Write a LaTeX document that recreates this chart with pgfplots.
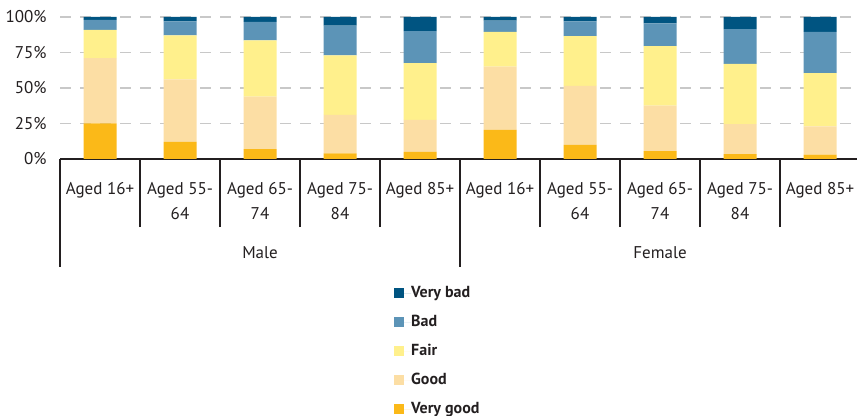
\documentclass[border=0pt]{standalone}
\usepackage{fontspec}
\setmainfont{PT Sans}
\usepackage{pgfplots}
\pgfplotsset{compat=1.18}
\definecolor{verybad}{RGB}{0,84,129}
\definecolor{bad}{RGB}{92,148,183}
\definecolor{fair}{RGB}{255,240,140}
\definecolor{good}{RGB}{252,222,164}
\definecolor{verygood}{RGB}{251,185,24}
\definecolor{axisdark}{RGB}{35,31,32}
\definecolor{gridgray}{RGB}{200,200,200}
\begin{document}
\begin{tikzpicture}
\path[use as bounding box] (0,0) rectangle (642.75pt,312pt);
\begin{axis}[
  at={(45pt,192.75pt)}, anchor=south west,
  scale only axis, width=597.75pt, height=106.5pt,
  ybar stacked, bar width=24.75pt,
  xmin=-0.5, xmax=9.4625, ymin=0, ymax=100,
  clip=false,
  axis lines*=left,
  y axis line style={draw=none},
  x axis line style={line width=1.5pt, color=axisdark},
  ytick={0,25,50,75,100},
  yticklabels={0\%,25\%,50\%,75\%,100\%},
  ytick style={draw=none},
  ymajorgrids,
  major grid style={gridgray, line width=1pt, dash pattern=on 8.25pt off 6.75pt},
  xtick={0,...,9},
  xticklabels={Aged 16+,Aged 55-\\64,Aged 65-\\74,Aged 75-\\84,Aged 85+,
               Aged 16+,Aged 55-\\64,Aged 65-\\74,Aged 75-\\84,Aged 85+},
  major tick length=0pt,
  minor xtick={0.5,1.5,2.5,3.5,5.5,6.5,7.5,8.5},
  minor tick length=51pt,
  tick align=outside,
  minor tick style={line width=1.5pt, color=axisdark},
  tick label style={font=\fontsize{12.75}{18.75}\selectfont, text=axisdark},
  xticklabel style={align=center, anchor=north, yshift=-14.25pt},
  yticklabel style={xshift=-6.5pt},
  every axis plot post/.append style={
    legend image code/.code={\fill[##1] (0pt,-3.75pt) rectangle (7.5pt,3.75pt);
      \path (0pt,0pt) -- (12.75pt,0pt);}},
  reverse legend,
  legend cell align=left,
  legend style={draw=none, fill=none, inner sep=0pt,
    at={(0.419,-0.887)}, anchor=north west,
    font=\bfseries\fontsize{12}{14}\selectfont, text=axisdark,
    nodes={inner sep=0pt, text height=9pt, text depth=3pt},
    row sep=9.75pt},
]
\addplot[fill=verygood, draw=none] coordinates {(0,25) (1,12) (2,7) (3,4) (4,5) (5,20.5) (6,10) (7,5.5) (8,3.5) (9,3)};
\addlegendentry{Very good}
\addplot[fill=good, draw=none] coordinates {(0,46) (1,44) (2,37) (3,27) (4,22.5) (5,44.5) (6,41.5) (7,32) (8,21) (9,20)};
\addlegendentry{Good}
\addplot[fill=fair, draw=none] coordinates {(0,20) (1,31) (2,39.5) (3,42) (4,40) (5,24.5) (6,35) (7,42) (8,42.5) (9,37.5)};
\addlegendentry{Fair}
\addplot[fill=bad, draw=none] coordinates {(0,7) (1,10) (2,13) (3,21) (4,22.5) (5,8) (6,10.5) (7,16) (8,24.5) (9,29)};
\addlegendentry{Bad}
\addplot[fill=verybad, draw=none] coordinates {(0,2) (1,3) (2,3.5) (3,6) (4,10) (5,2.5) (6,3) (7,4.5) (8,8.5) (9,10.5)};
\addlegendentry{Very bad}
% group separators and group names
\draw[line width=1.5pt, axisdark] (axis cs:-0.5,0) -- ([yshift=-81pt]axis cs:-0.5,0);
\draw[line width=1.5pt, axisdark] (axis cs:4.5,0) -- ([yshift=-81pt]axis cs:4.5,0);
\node[font=\fontsize{12.75}{15}\selectfont, text=axisdark, yshift=-70.5pt] at (axis cs:2,0) {Male};
\node[font=\fontsize{12.75}{15}\selectfont, text=axisdark, yshift=-70.5pt] at (axis cs:7,0) {Female};
\end{axis}
\end{tikzpicture}
\end{document}
